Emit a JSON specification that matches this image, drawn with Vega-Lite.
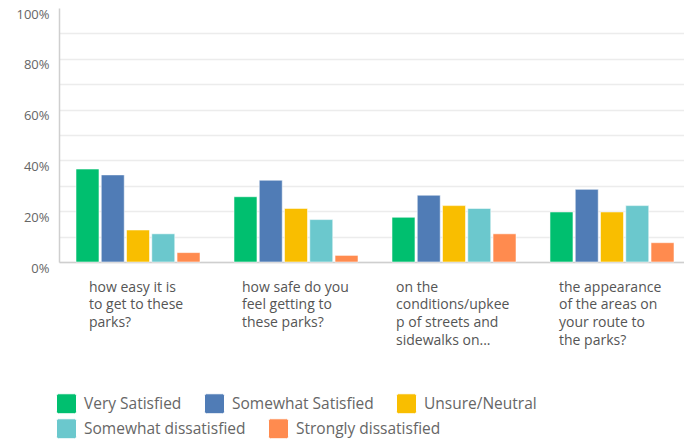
{
  "$schema": "https://vega.github.io/schema/vega-lite/v6.json",
  "autosize": {"type": "none"},
  "padding": {"left": 59, "top": 8, "right": 0, "bottom": 183},
  "width": 625,
  "height": 254,
  "background": "#ffffff",
  "config": {
    "font": "Open Sans",
    "view": {"stroke": null},
    "legend": {
      "title": null,
      "orient": "none",
      "direction": "horizontal",
      "columnPadding": 20,
      "padding": 0,
      "symbolType": "M -0.8 -1 L 0.8 -1 Q 1 -1 1 -0.8 L 1 0.8 Q 1 1 0.8 1 L -0.8 1 Q -1 1 -1 0.8 L -1 -0.8 Q -1 -1 -0.8 -1 Z",
      "symbolSize": 400,
      "symbolStrokeColor": "#ffffff",
      "symbolStrokeWidth": 1,
      "symbolOpacity": 1,
      "labelOffset": 7,
      "labelFontSize": 15.5,
      "labelColor": "#666666",
      "labelLimit": 0
    }
  },
  "data": {
    "values": [
      {"question": "how easy it is\nto get to these\nparks?", "answer": "Very Satisfied", "share": 0.366},
      {"question": "how easy it is\nto get to these\nparks?", "answer": "Somewhat Satisfied", "share": 0.343},
      {"question": "how easy it is\nto get to these\nparks?", "answer": "Unsure/Neutral", "share": 0.126},
      {"question": "how easy it is\nto get to these\nparks?", "answer": "Somewhat dissatisfied", "share": 0.111},
      {"question": "how easy it is\nto get to these\nparks?", "answer": "Strongly dissatisfied", "share": 0.037},
      {"question": "how safe do you\nfeel getting to\nthese parks?", "answer": "Very Satisfied", "share": 0.257},
      {"question": "how safe do you\nfeel getting to\nthese parks?", "answer": "Somewhat Satisfied", "share": 0.322},
      {"question": "how safe do you\nfeel getting to\nthese parks?", "answer": "Unsure/Neutral", "share": 0.211},
      {"question": "how safe do you\nfeel getting to\nthese parks?", "answer": "Somewhat dissatisfied", "share": 0.167},
      {"question": "how safe do you\nfeel getting to\nthese parks?", "answer": "Strongly dissatisfied", "share": 0.026},
      {"question": "on the\nconditions/upkee\np of streets and\nsidewalks on...", "answer": "Very Satisfied", "share": 0.176},
      {"question": "on the\nconditions/upkee\np of streets and\nsidewalks on...", "answer": "Somewhat Satisfied", "share": 0.263},
      {"question": "on the\nconditions/upkee\np of streets and\nsidewalks on...", "answer": "Unsure/Neutral", "share": 0.222},
      {"question": "on the\nconditions/upkee\np of streets and\nsidewalks on...", "answer": "Somewhat dissatisfied", "share": 0.211},
      {"question": "on the\nconditions/upkee\np of streets and\nsidewalks on...", "answer": "Strongly dissatisfied", "share": 0.111},
      {"question": "the appearance\nof the areas on\nyour route to\nthe parks?", "answer": "Very Satisfied", "share": 0.197},
      {"question": "the appearance\nof the areas on\nyour route to\nthe parks?", "answer": "Somewhat Satisfied", "share": 0.286},
      {"question": "the appearance\nof the areas on\nyour route to\nthe parks?", "answer": "Unsure/Neutral", "share": 0.197},
      {"question": "the appearance\nof the areas on\nyour route to\nthe parks?", "answer": "Somewhat dissatisfied", "share": 0.222},
      {"question": "the appearance\nof the areas on\nyour route to\nthe parks?", "answer": "Strongly dissatisfied", "share": 0.076}
    ]
  },
  "encoding": {
    "x": {
      "field": "question",
      "type": "nominal",
      "sort": null,
      "scale": {"paddingInner": 0.215, "paddingOuter": 0.0854, "align": 0.63},
      "axis": {
        "title": null,
        "ticks": false,
        "domainColor": "#cfcfcf",
        "domainWidth": 1.5,
        "labelAngle": 0,
        "labelExpr": "split(datum.label, '\\n')",
        "labelAlign": "left",
        "labelBaseline": "top",
        "labelPadding": 18,
        "labelLineHeight": 17.7,
        "labelFontSize": 14,
        "labelColor": "#555555",
        "labelLimit": 0,
        "labelOffset": {
          "condition": [
            {"test": "indexof(datum.value, 'easy') >= 0", "value": -49},
            {"test": "indexof(datum.value, 'safe') >= 0", "value": -54},
            {"test": "indexof(datum.value, 'upkee') >= 0", "value": -58}
          ],
          "value": -53
        }
      }
    },
    "xOffset": {
      "field": "answer",
      "type": "nominal",
      "sort": ["Very Satisfied", "Somewhat Satisfied", "Unsure/Neutral", "Somewhat dissatisfied", "Strongly dissatisfied"],
      "scale": {"paddingInner": 0.09, "paddingOuter": 0}
    },
    "y": {
      "field": "share",
      "type": "quantitative",
      "scale": {"domain": [0, 1], "nice": false},
      "axis": {
        "title": null,
        "values": [0, 0.1, 0.2, 0.3, 0.4, 0.5, 0.6, 0.7, 0.8, 0.9, 1],
        "format": ".0%",
        "labelExpr": "round(datum.value * 100) % 20 == 0 ? datum.label : ''",
        "ticks": false,
        "domainColor": "#cfcfcf",
        "domainWidth": 1.5,
        "gridColor": "#ececec",
        "gridWidth": 1.5,
        "gridOpacity": {"condition": {"test": "datum.value > 0.99", "value": 0}, "value": 1},
        "labelPadding": 10,
        "labelOffset": 6,
        "labelFontSize": 13,
        "labelColor": "#666666"
      }
    }
  },
  "layer": [
    {
      "mark": {"type": "bar", "stroke": "#ffffff", "strokeWidth": 1, "strokeOpacity": 0.55},
      "encoding": {
        "color": {
          "field": "answer",
          "type": "nominal",
          "scale": {
            "domain": ["Very Satisfied", "Somewhat Satisfied", "Unsure/Neutral", "Somewhat dissatisfied", "Strongly dissatisfied"],
            "range": ["#00bf6f", "#507cb6", "#f9be00", "#6bc8cd", "#ff8b4f"]
          },
          "legend": {
            "values": ["Very Satisfied", "Somewhat Satisfied", "Unsure/Neutral"],
            "legendX": -3,
            "legendY": 385
          }
        }
      }
    },
    {
      "mark": {"type": "bar", "opacity": 0},
      "encoding": {
        "fill": {
          "field": "answer",
          "type": "nominal",
          "scale": {
            "domain": ["Somewhat dissatisfied", "Strongly dissatisfied"],
            "range": ["#6bc8cd", "#ff8b4f"]
          },
          "legend": {
            "legendX": -3,
            "legendY": 410
          }
        }
      }
    }
  ]
}
